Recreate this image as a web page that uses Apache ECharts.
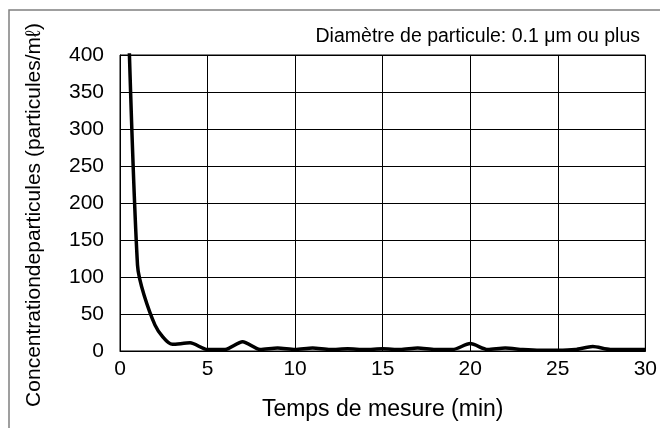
<!DOCTYPE html>
<html><head><meta charset="utf-8">
<script src="https://cdn.jsdelivr.net/npm/echarts@6/dist/echarts.min.js"></script>
<style>html,body{margin:0;padding:0;background:#fff}#c{width:660px;height:428px}</style>
</head><body><div id="c"></div>
<script>
const times = [0,1,2,3,4,5,6,7,8,9,10,11,12,13,14,15,16,17,18,19,20,21,22,23,24,25,26,27,28,29,30];
const concentration = [880,116,35,9,11,2,2,12.5,2,4,2,4,2,3,2,3,2,4,2,2,10,2,4,2,1,1,2,6,2,2,2];
const xTicks = [0,5,10,15,20,25,30];
const yTicks = [0,50,100,150,200,250,300,350,400];
const annotation = 'Diamètre de particule: 0.1 μm ou plus';
const xName = 'Temps de mesure (min)';
const yName = 'Concentrationdeparticules (particules/mℓ)';

const font = 'Liberation Sans, Arial, sans-serif';
const chart = echarts.init(document.getElementById('c'));
chart.setOption({
  animation: false,
  backgroundColor: '#fff',
  grid: {left: 120, right: 14, top: 55, bottom: 77, show: true, borderColor: '#000', borderWidth: 1},
  xAxis: {
    type: 'value', min: xTicks[0], max: xTicks[xTicks.length-1], interval: 5,
    axisLine: {show: true, lineStyle: {color: '#000', width: 1}},
    axisTick: {show: false},
    splitLine: {show: true, lineStyle: {color: '#000', width: 1}},
    axisLabel: {color: '#000', fontSize: 21, fontFamily: font, margin: 8},
    name: xName, nameLocation: 'middle', nameGap: 47,
    nameTextStyle: {color: '#000', fontSize: 23, fontFamily: font}
  },
  yAxis: {
    type: 'value', min: yTicks[0], max: yTicks[yTicks.length-1], interval: 50,
    axisLine: {show: true, lineStyle: {color: '#000', width: 1}},
    axisTick: {show: false},
    splitLine: {show: true, lineStyle: {color: '#000', width: 1}},
    axisLabel: {color: '#000', fontSize: 21, fontFamily: font, margin: 16}
  },
  graphic: [
    {type: 'rect', shape: {x: 9, y: 10, width: 700, height: 500}, style: {fill: 'none', stroke: '#808080', lineWidth: 1.5}, silent: true},
    {type: 'text', right: 20, top: 27, style: {text: annotation, fill: '#000', font: '19.5px ' + font, textAlign: 'right'}},
    {type: 'text', x: 34, y: 215, rotation: Math.PI/2, style: {text: yName, fill: '#000', font: '21px ' + font, textAlign: 'center', textVerticalAlign: 'middle'}}
  ],
  series: [{
    type: 'line', data: times.map((t,i)=>[t, concentration[i]]),
    showSymbol: false, smooth: 0.25, clip: true,
    lineStyle: {color: '#000', width: 3.5}
  }]
});
</script></body></html>
